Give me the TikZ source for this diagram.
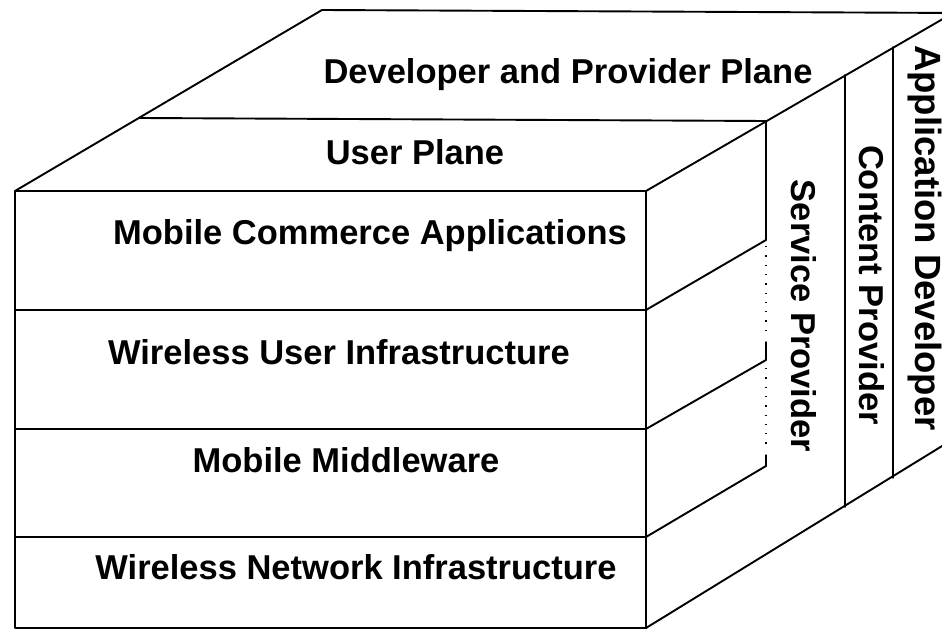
\documentclass[tikz,border=0pt]{standalone}
\usepackage{fontspec}
\setmainfont{Liberation Sans}
\begin{document}
\begin{tikzpicture}[x=1pt,y=-1pt,
  edge/.style={line width=1.9pt, line cap=round, line join=round},
  thinedge/.style={line width=1.4pt, line cap=round},
  brokenedge/.style={line width=1.4pt, dash pattern=on 1.3pt off 8pt},
  layertext/.style={font=\fontsize{34.5}{40}\selectfont\bfseries, inner sep=0pt, anchor=base},
  sidetext/.style={layertext, rotate=-90}]
\fill[white] (0,0) rectangle (942,631);
\useasboundingbox (0,0) rectangle (942,631);
\clip (0,0) rectangle (942,631);

% front face corners
\coordinate (ftl) at (15,191);
\coordinate (ftr) at (646,191);
\coordinate (fbl) at (15,628);
\coordinate (fbr) at (646,628);
% layer boundaries on the front face
\coordinate (l1) at (15,310);  \coordinate (r1) at (646,310);
\coordinate (l2) at (15,429);  \coordinate (r2) at (646,429);
\coordinate (l3) at (15,537);  \coordinate (r3) at (646,537);
% top face
\coordinate (btl) at (322,10);
\coordinate (btr) at (960,13);
\coordinate (upl) at (140,118);
\coordinate (upr) at (766,121);
\coordinate (diagend) at (960,9);
% right side: back ends of the layer edges
\coordinate (s1) at (766,240);
\coordinate (s2) at (766,360);
\coordinate (s3) at (766,466);
\coordinate (bottomend) at (960,435);
% vertical planes on the right side
\coordinate (cpt) at (845,75);  \coordinate (cpb) at (845,507);
\coordinate (adt) at (893,47);  \coordinate (adb) at (893,478);

% front box
\draw[edge] (ftl) -- (ftr) -- (fbr) -- (fbl) -- cycle;
\draw[edge] (l1) -- (r1);
\draw[edge] (l2) -- (r2);
\draw[edge] (l3) -- (r3);

% top face
\draw[edge] (ftl) -- (btl) -- (btr);
\draw[edge] (upl) -- (upr);
\draw[edge] (ftr) -- (diagend);

% side edges of the layers
\draw[edge] (r1) -- (s1);
\draw[edge] (r2) -- (s2);
\draw[edge] (r3) -- (s3);
\draw[edge] (fbr) -- (bottomend);

% service provider plane edge, partly broken
\draw[edge] (upr) -- (s1);
\draw[brokenedge] (766,246) -- (766,336);
\draw[thinedge] (766,342) -- (s2);
\draw[brokenedge] (766,368) -- (766,450);
\draw[thinedge] (766,455) -- (s3);

% content provider and application developer planes
\draw[edge] (cpt) -- (cpb);
\draw[thinedge] (adt) -- (adb);

% labels
\node[layertext] (dpp) at (568,84) {Developer and Provider Plane};
\node[layertext] (up) at (415,165) {User Plane};
\node[layertext] (mca) at (370,244) {Mobile Commerce Applications};
\node[layertext] (wui) at (339,364) {Wireless User Infrastructure};
\node[layertext] (mm) at (346,472) {Mobile Middleware};
\node[layertext] (wni) at (356,579) {Wireless Network Infrastructure};
\node[sidetext] (sp) at (791,316) {Service Provider};
\node[sidetext] (cp) at (859,285) {Content Provider};
\node[sidetext, font=\fontsize{36.5}{42}\selectfont\bfseries] (ad) at (915,238) {Application Developer};
\end{tikzpicture}
\end{document}
